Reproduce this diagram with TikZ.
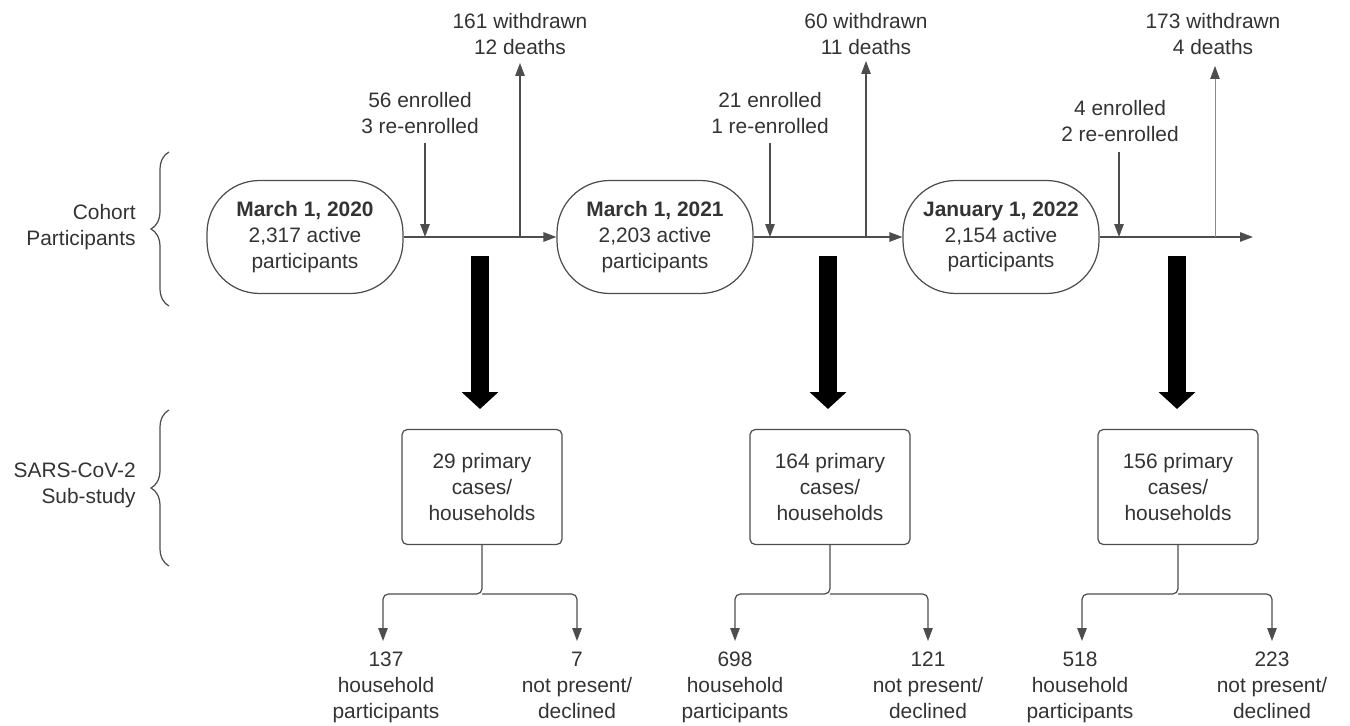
\documentclass[tikz,border=0pt]{standalone}
\usepackage{fontspec}
\setmainfont{Liberation Sans}
\usetikzlibrary{arrows.meta,decorations.pathreplacing}
\definecolor{txt}{HTML}{333333}
\definecolor{ln}{HTML}{4D4D4D}
\definecolor{lnlight}{HTML}{8A8A8A}
\begin{document}
\begin{tikzpicture}[x=0.02cm,y=-0.02cm,
  font=\fontsize{11.9}{14.7}\selectfont, text=txt,
  lbl/.style={align=center, inner sep=0pt},
  outlbl/.style={align=center, inner sep=0pt, anchor=north},
  sidelbl/.style={align=right, inner sep=0pt, anchor=east},
  datebox/.style={draw=ln, line width=0.7pt, rounded corners=1.05cm, minimum width=3.92cm, minimum height=2.26cm, align=center, inner sep=0pt},
  subbox/.style={draw=ln, line width=0.7pt, rounded corners=3pt, minimum width=3.2cm, minimum height=2.3cm, align=center, inner sep=0pt},
  arr/.style={draw=ln, line width=0.7pt, -{Triangle[length=0.26cm,width=0.19cm]}},
  arrlight/.style={draw=lnlight, line width=0.45pt, -{Triangle[length=0.26cm,width=0.19cm,color=ln]}},
  tree/.style={draw=ln, line width=0.7pt, rounded corners=3pt, -{Triangle[length=0.26cm,width=0.19cm]}},
  bigarr/.style={line width=0.36cm, draw=black, -{Triangle[length=0.34cm,width=0.72cm]}},
  brc/.style={draw=ln, line width=0.7pt, decorate, decoration={brace, amplitude=0.36cm}}]
\useasboundingbox (0,0) rectangle (1350,726);

% side labels and braces
\node[sidelbl] (lc) at (136,227) {Cohort\\Participants};
\node[sidelbl] (ls) at (136,485) {SARS-CoV-2\\Sub-study};
\coordinate (bra1) at (169,306);
\coordinate (bra2) at (169,152);
\coordinate (brb1) at (169,566);
\coordinate (brb2) at (169,410);
\draw[brc] (bra1) -- (bra2);
\draw[brc] (brb1) -- (brb2);

% date boxes
\node[datebox] (b1) at (305,237) {\textbf{March 1, 2020}\\2,317 active\\participants};
\node[datebox] (b2) at (655,237) {\textbf{March 1, 2021}\\2,203 active\\participants};
\node[datebox] (b3) at (1001,237) {\textbf{January 1, 2022}\\2,154 active\\participants};
\coordinate (end3) at (1253,237);

% main timeline
\draw[arr] (b1.east) -- (b2.west);
\draw[arr] (b2.east) -- (b3.west);
\draw[arr] (b3.east) -- (end3);

% enrolled labels and arrows
\node[lbl] (e1) at (420,113) {56 enrolled\\3 re-enrolled};
\node[lbl] (e2) at (770,113) {21 enrolled\\1 re-enrolled};
\node[lbl] (e3) at (1120,121) {4 enrolled\\2 re-enrolled};
\coordinate (e1t) at (425,143); \coordinate (e1b) at (425,237);
\coordinate (e2t) at (770,143); \coordinate (e2b) at (770,237);
\coordinate (e3t) at (1119,152); \coordinate (e3b) at (1119,237);
\draw[arr] (e1t) -- (e1b);
\draw[arr] (e2t) -- (e2b);
\draw[arr] (e3t) -- (e3b);

% withdrawn labels and arrows
\node[lbl] (w1) at (520,34) {161 withdrawn\\12 deaths};
\node[lbl] (w2) at (866,34) {60 withdrawn\\11 deaths};
\node[lbl] (w3) at (1213,34) {173 withdrawn\\4 deaths};
\coordinate (w1b) at (520,237); \coordinate (w1t) at (520,63);
\coordinate (w2b) at (866,237); \coordinate (w2t) at (866,61);
\coordinate (w3b) at (1215,237); \coordinate (w3t) at (1215,66);
\draw[arr] (w1b) -- (w1t);
\draw[arr] (w2b) -- (w2t);
\draw[arrlight] (w3b) -- (w3t);

% sub-study boxes
\node[subbox] (s1) at (482,487) {29 primary\\cases/\\households};
\node[subbox] (s2) at (830,487) {164 primary\\cases/\\households};
\node[subbox] (s3) at (1178,487) {156 primary\\cases/\\households};

% thick arrows
\coordinate (k1t) at (480,256); \coordinate (k1b) at (480,409);
\coordinate (k2t) at (828,256); \coordinate (k2b) at (828,409);
\coordinate (k3t) at (1177,256); \coordinate (k3b) at (1177,409);
\draw[bigarr] (k1t) -- (k1b);
\draw[bigarr] (k2t) -- (k2b);
\draw[bigarr] (k3t) -- (k3b);

% branches
\coordinate (j1) at (482,594); \coordinate (j2) at (830,594); \coordinate (j3) at (1178,594);
\coordinate (t1a) at (383,641); \coordinate (t1b) at (577,641);
\coordinate (t2a) at (735,641); \coordinate (t2b) at (928,641);
\coordinate (t3a) at (1082,641); \coordinate (t3b) at (1272,641);
\draw[tree] (s1.south) -- (j1) -| (t1a);
\draw[tree] (j1) -| (t1b);
\draw[tree] (s2.south) -- (j2) -| (t2a);
\draw[tree] (j2) -| (t2b);
\draw[tree] (s3.south) -- (j3) -| (t3a);
\draw[tree] (j3) -| (t3b);

% outcome labels
\node[outlbl] (o1a) at (386,652) {137\\household\\participants};
\node[outlbl] (o1b) at (577,652) {7\\not present/\\declined};
\node[outlbl] (o2a) at (735,652) {698\\household\\participants};
\node[outlbl] (o2b) at (928,652) {121\\not present/\\declined};
\node[outlbl] (o3a) at (1080,652) {518\\household\\participants};
\node[outlbl] (o3b) at (1272,652) {223\\not present/\\declined};
\end{tikzpicture}
\end{document}
